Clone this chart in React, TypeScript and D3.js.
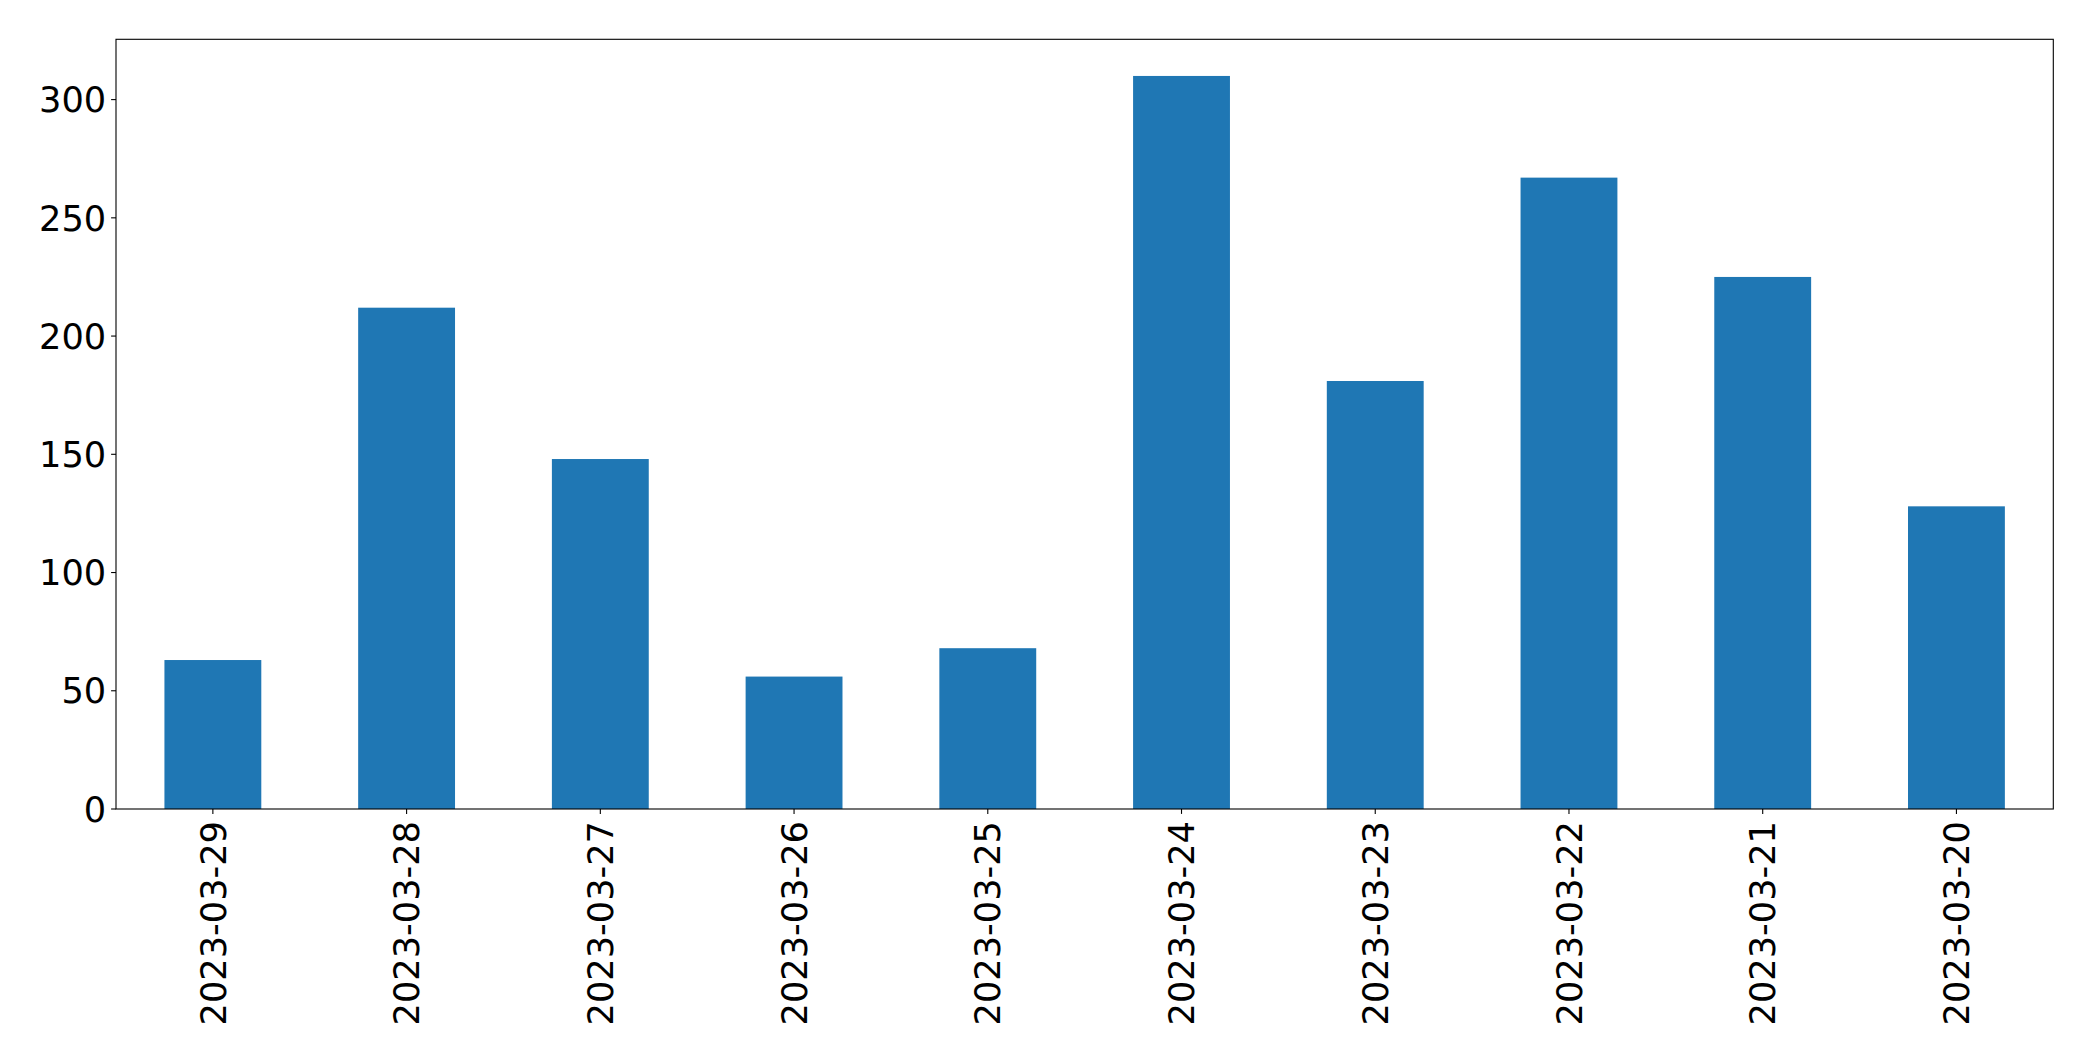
import React from "react";
import * as d3 from "d3";

const categories = ["2023-03-29","2023-03-28","2023-03-27","2023-03-26","2023-03-25","2023-03-24","2023-03-23","2023-03-22","2023-03-21","2023-03-20"];
const values = [63, 212, 148, 56, 68, 310, 181, 267, 225, 128];
const yTicks = [0, 50, 100, 150, 200, 250, 300];

const W = 2093, H = 1061;
const L = 116, R = 2053.3, T = 39.3, B = 809;
const FONT = "'DejaVu Sans', sans-serif";
const FS = 35.2;

export default function App() {
  const band = (R - L) / categories.length;
  const x = (i: number) => L + band * (i + 0.5);
  const y = d3.scaleLinear().domain([0, d3.max(values)! * 1.05]).range([B, T]);
  const bw = band * 0.5;
  return (
    <svg width={W} height={H} style={{ position: "absolute", left: 0, top: 0, background: "#fff" }}>
      {values.map((v, i) => (
        <rect key={i} x={x(i) - bw / 2} y={y(v)} width={bw} height={B - y(v)} fill="#1f77b4" />
      ))}
      <rect x={L} y={T} width={R - L} height={B - T} fill="none" stroke="#000" strokeWidth={1.1} />
      {yTicks.map((t) => (
        <g key={t}>
          <line x1={L - 4.9} x2={L} y1={y(t)} y2={y(t)} stroke="#000" strokeWidth={1.1} />
          <text x={L - 9.8} y={y(t)} dy="0.36em" textAnchor="end" fontFamily={FONT} fontSize={FS} fill="#000">{t}</text>
        </g>
      ))}
      {categories.map((c, i) => (
        <g key={c}>
          <line x1={x(i)} x2={x(i)} y1={B} y2={B + 4.9} stroke="#000" strokeWidth={1.1} />
          <text transform={`translate(${x(i)},${B + 12}) rotate(-90)`} textAnchor="end" dy="0.36em" fontFamily={FONT} fontSize={FS} fill="#000">{c}</text>
        </g>
      ))}
    </svg>
  );
}
